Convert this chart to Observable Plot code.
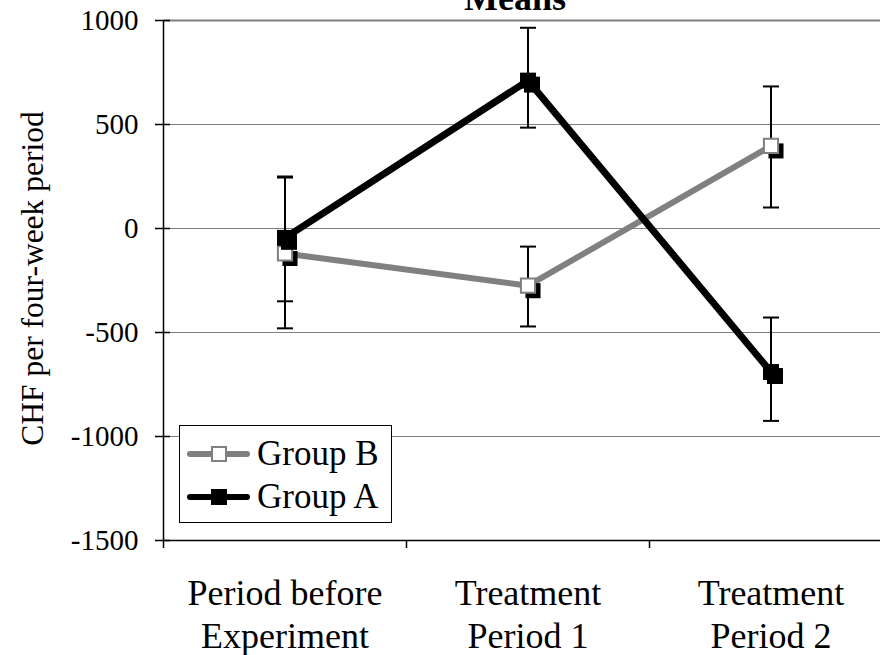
<!DOCTYPE html>
<html>
<head>
<meta charset="utf-8">
<script src="https://cdn.jsdelivr.net/npm/d3@7"></script>
<script src="https://cdn.jsdelivr.net/npm/@observablehq/plot@0.6"></script>
<style>
  html, body { margin: 0; padding: 0; background: #fff; }
  #wrap { position: relative; width: 880px; height: 655px; overflow: hidden; font-family: "Liberation Serif", "Times New Roman", serif; }
  #legend { position: absolute; left: 179px; top: 425px; width: 211px; height: 96px; border: 1px solid #000; background: #fff; }
  .row { position: absolute; left: 0; height: 40px; display: flex; align-items: center; }
  .row span { font-size: 35px; color: #000; margin-left: 4px; line-height: 40px; }
</style>
</head>
<body>
<div id="wrap"></div>
<script>
const title = "Means";
const yLabel = "CHF per four-week period";
const categories = ["Period before\nExperiment", "Treatment\nPeriod 1", "Treatment\nPeriod 2"];
const groups = ["Group B", "Group A"];
const groupB = [-120, -275, 397];
const groupBLow = [-480, -471, 101];
const groupBHigh = [245, -87, 683];
const groupA = [-45, 711, -690];
const groupALow = [-350, 485, -925];
const groupAHigh = [250, 965, -428];
const yTicks = [-1500, -1000, -500, 0, 500, 1000];
const gridTicks = [-1000, -500, 0, 500];

function rows(name, vals, lo, hi) {
  return vals.map((v, i) => ({group: name, xi: i + 0.5, value: v, lo: lo[i], hi: hi[i]}));
}
const dataB = rows("Group B", groupB, groupBLow, groupBHigh);
const dataA = rows("Group A", groupA, groupALow, groupAHigh);
const all = dataB.concat(dataA);

const cap = {
  draw(context, size) {
    const w = Math.sqrt(size / Math.PI);
    context.moveTo(-w, 0);
    context.lineTo(w, 0);
  }
};

const chart = Plot.plot({
  width: 880,
  height: 655,
  marginLeft: 163,
  marginRight: 0,
  marginTop: 20,
  marginBottom: 115,
  style: {fontFamily: "Liberation Serif, Times New Roman, serif", background: "white", color: "black"},
  x: {type: "linear", domain: [0, 3], range: [163, 892]},
  y: {domain: [-1500, 1000], range: [540, 20]},
  marks: [
    Plot.ruleY(gridTicks, {stroke: "#808080", strokeWidth: 1.2, x1: 0, x2: 3}),
    Plot.ruleY([1000], {stroke: "#808080", strokeWidth: 2.2, x1: 0, x2: 3}),
    Plot.ruleY([-1500], {stroke: "black", strokeWidth: 1.5, x1: 0, x2: 3}),
    Plot.ruleX([0], {stroke: "black", strokeWidth: 1.5, y1: -1500, y2: 1000}),
    Plot.axisY({ticks: yTicks, tickSize: 15, dx: 7, tickPadding: 17, fontSize: 29, label: null,
      tickFormat: d => String(d), stroke: "black", strokeWidth: 1.5, fill: "black"}),
    Plot.axisX({ticks: [0, 1, 2, 3], tickSize: 8, tickFormat: () => "", label: null, stroke: "black", strokeWidth: 1.5}),
    Plot.axisX({ticks: [0.5, 1.5, 2.5], tickSize: 0, tickPadding: 34, fontSize: 36, lineHeight: 1.2, label: null,
      tickFormat: d => categories[Math.floor(d)], fill: "black"}),
    Plot.text([yLabel], {frameAnchor: "left", textAnchor: "middle", lineAnchor: "middle", rotate: -90, fontSize: 31.5, dx: -131, dy: -2, fill: "black"}),
    Plot.text([title], {frameAnchor: "top", textAnchor: "middle", lineAnchor: "middle", fontSize: 36, fontWeight: "bold", dx: -7, dy: -22, fill: "black"}),
    // error bars
    Plot.ruleX(all, {x: "xi", y1: "lo", y2: "hi", stroke: "black", strokeWidth: 2}),
    Plot.dot(all, {x: "xi", y: "lo", symbol: cap, r: 8, stroke: "black", strokeWidth: 2, fill: "none"}),
    Plot.dot(all, {x: "xi", y: "hi", symbol: cap, r: 8, stroke: "black", strokeWidth: 2, fill: "none"}),
    // lines
    Plot.line(dataB, {x: "xi", y: "value", stroke: "#808080", strokeWidth: 6}),
    Plot.line(dataA, {x: "xi", y: "value", stroke: "black", strokeWidth: 7}),
    // markers with shadow
    Plot.dot(dataB, {x: "xi", y: "value", symbol: "square", r: 8.5, fill: "black", dx: 5, dy: 5}),
    Plot.dot(dataB, {x: "xi", y: "value", symbol: "square", r: 8, fill: "white", stroke: "#808080", strokeWidth: 2}),
    Plot.dot(dataA, {x: "xi", y: "value", symbol: "square", r: 9, fill: "black", dx: 4, dy: 4}),
    Plot.dot(dataA, {x: "xi", y: "value", symbol: "square", r: 9, fill: "black"})
  ]
});

const wrap = document.getElementById("wrap");
wrap.appendChild(chart);

// legend
const legend = document.createElement("div");
legend.id = "legend";
const styles = {
  "Group B": {line: "#808080", fill: "white", stroke: "#808080"},
  "Group A": {line: "black", fill: "black", stroke: "black"}
};
groups.forEach((g, i) => {
  const s = styles[g];
  const row = document.createElement("div");
  row.className = "row";
  row.style.top = (8 + i * 43) + "px";
  row.innerHTML = `<svg width="73" height="40" style="display:block">
      <line x1="10" y1="20" x2="67" y2="20" stroke="${s.line}" stroke-width="6" stroke-linecap="round"/>
      <rect x="32" y="13" width="14" height="14" fill="${s.fill}" stroke="${s.stroke}" stroke-width="2"/>
    </svg><span>${g}</span>`;
  legend.appendChild(row);
});
wrap.appendChild(legend);
</script>
</body>
</html>
